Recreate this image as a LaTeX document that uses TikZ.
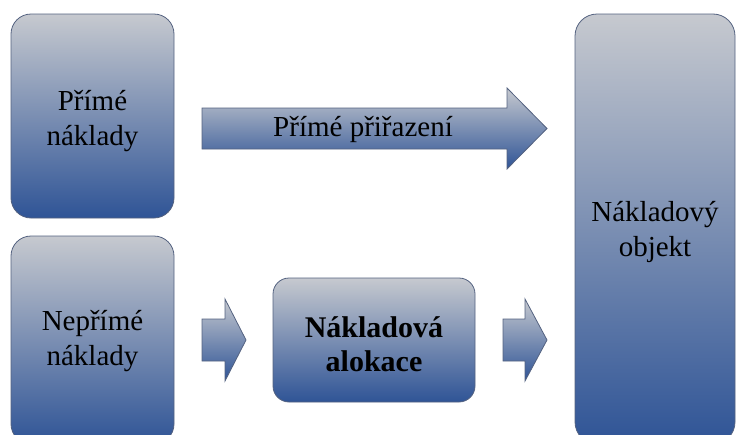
\documentclass[tikz,border=0pt]{standalone}
\usepackage{fontspec}
\setmainfont{Liberation Serif}
\definecolor{gtop}{RGB}{198,201,207}
\definecolor{gmid}{RGB}{180,199,231}
\definecolor{gbot}{RGB}{47,84,150}
\definecolor{edge}{RGB}{84,98,128}
\tikzset{
  grad/.style={top color=gtop, middle color=gmid, bottom color=gbot, draw=edge, line width=0.8pt},
  box/.style={grad, rounded corners=#1, inner sep=0pt, align=center},
  txt/.style={font=\fontsize{29}{35.5}\selectfont, align=center, text=black},
}
\begin{document}
\begin{tikzpicture}[x=1pt,y=-1pt]
\useasboundingbox (0,0) rectangle (736,434);
\clip (0,0) rectangle (736,434);
\node[box=20pt, minimum width=163pt, minimum height=204pt] (direct) at (92.5,116) {};
\node[txt] (directt) at (92.5,121) {Přímé\\náklady};
\node[box=20pt, minimum width=163pt, minimum height=208pt] (indirect) at (92.5,340) {};
\node[txt] (indirectt) at (92.5,341) {Nepřímé\\náklady};
\node[box=16pt, minimum width=202pt, minimum height=124pt] (alloc) at (374,340) {};
\node[txt, font=\fontsize{30}{34.5}\selectfont\bfseries] (alloct) at (374,344) {Nákladová\\alokace};
\node[box=22pt, minimum width=160pt, minimum height=430pt] (object) at (655,229) {};
\node[txt] (objectt) at (655,232) {Nákladový\\objekt};
% block arrows
\path[grad] (202,108) -- (507,108) -- (507,88) -- (547,128.5) -- (507,169) -- (507,149) -- (202,149) -- cycle;
\node[txt] (assign) at (363,129) {Přímé přiřazení};
\path[grad] (202,319) -- (225,319) -- (225,299) -- (246,340) -- (225,381) -- (225,361) -- (202,361) -- cycle;
\path[grad] (503,319) -- (525,319) -- (525,299) -- (547,340) -- (525,381) -- (525,361) -- (503,361) -- cycle;
\end{tikzpicture}
\end{document}
